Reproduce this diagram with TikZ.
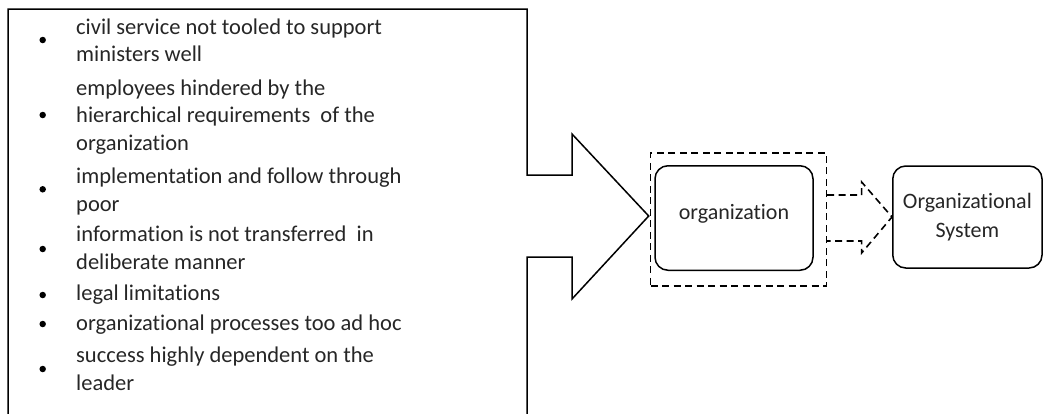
\documentclass[tikz,border=0pt]{standalone}
\usepackage{fontspec}
\setmainfont{Carlito}[Ligatures=NoCommon]
\usetikzlibrary{calc}
% multi-line list entry whose baseline is that of its first line
\newcommand\entrylines[1]{\parbox[t]{440pt}{\raggedright #1}}
\definecolor{textgray}{gray}{0.15}
\begin{document}
\begin{tikzpicture}[x=1pt,y=-1pt,
  listtext/.style={font=\fontsize{22.5}{27.7}\selectfont, text=textgray, inner sep=0pt, anchor=base west},
  bulletdot/.style={circle, fill=black, inner sep=0pt, minimum size=6.5pt},
  roundbox/.style={draw, line width=1.5pt, rounded corners=13pt, inner sep=0pt, text=textgray,
                   font=\fontsize{22}{28.4}\selectfont, align=center},
  outline/.style={draw, line width=1.5pt, line join=miter},
  dashline/.style={draw, line width=1.6pt, dash pattern=on 7pt off 4.5pt},
]
\useasboundingbox (0,0) rectangle (1044,413);
\clip (0,0) rectangle (1044,413);

% boxes on the right
\node[roundbox, minimum width=158pt, minimum height=104.5pt,
      text height=14pt, text depth=11pt] (org) at (734,218) {organization};
\node[dashline, inner sep=0pt, minimum width=175.8pt, minimum height=133pt] (frame) at (738.4,219.4) {};
\node[roundbox, minimum width=149.3pt, minimum height=102pt] (sys) at (967.4,217)
  {Organizational\\System};

% large block arrow holding the list
\coordinate (tip) at (frame.west |- 0,216);
\draw[outline] (8,420) -- (8,9) -- (527,9) -- (527,175) -- (572,175) -- (572,134)
  -- ([xshift=-1pt]tip) -- (572,299) -- (572,257) -- (527,257) -- (527,420);

% dashed block arrow from the frame to the system box
\draw[dashline, line join=miter] (frame.east |- 0,195) -- (861.6,195) -- (861.6,182)
  -- (sys.west) -- (861.6,253) -- (861.6,241) -- (frame.east |- 0,241);

% list
\node[bulletdot] (b1) at (42.7,40) {};
\node[listtext] (i1) at (76,34) {\entrylines{civil service not tooled to support\\ministers well}};
\node[bulletdot] (b2) at (42.7,115) {};
\node[listtext] (i2) at (76,95) {\entrylines{employees hindered by the\\hierarchical requirements \ of the\\organization}};
\node[bulletdot] (b3) at (42.7,189.3) {};
\node[listtext] (i3) at (76,183.3) {\entrylines{implementation and follow through\\poor}};
\node[bulletdot] (b4) at (42.7,249) {};
\node[listtext] (i4) at (76,241.7) {\entrylines{information is not transferred \ in\\deliberate manner}};
\node[bulletdot] (b5) at (42.7,295) {};
\node[listtext] (i5) at (76,300.7) {legal limitations};
\node[bulletdot] (b6) at (42.7,324) {};
\node[listtext] (i6) at (76,330.7) {organizational processes too ad hoc};
\node[bulletdot] (b7) at (42.7,369) {};
\node[listtext] (i7) at (76,362.7) {\entrylines{success highly dependent on the\\leader}};
\end{tikzpicture}
\end{document}
